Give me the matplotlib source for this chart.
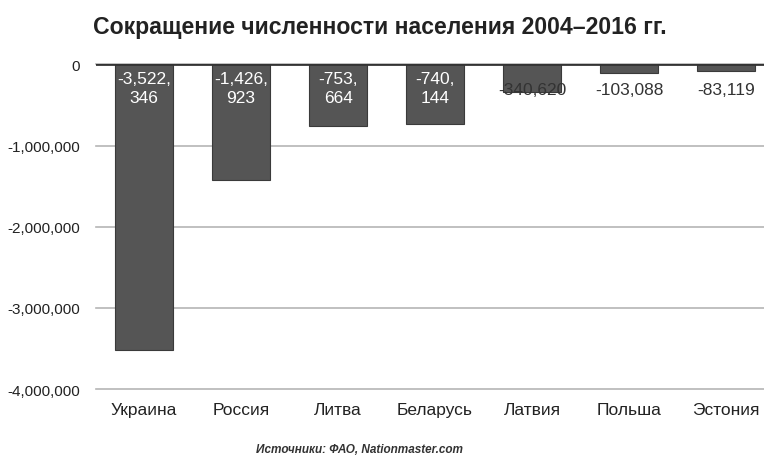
import matplotlib.pyplot as plt
from matplotlib.ticker import FuncFormatter

countries = ["Украина", "Россия", "Литва", "Беларусь", "Латвия", "Польша", "Эстония"]
decline = [-3522346, -1426923, -753664, -740144, -340620, -103088, -83119]
yticks = [0, -1000000, -2000000, -3000000, -4000000]

plt.rcParams["font.family"] = ["Liberation Sans", "DejaVu Sans"]

fig = plt.figure(figsize=(7.64, 4.6), dpi=100)
ax = fig.add_axes([0.125, 0.152, 0.889, 0.706])

x = range(len(countries))
ax.bar(x, decline, width=0.6, color="#555555", edgecolor="#3a3a3a", lw=0.8, zorder=3)

for i, v in enumerate(decline):
    s = f"{v:,}"
    if v < -700000:
        # long numbers wrap inside the bar
        head, tail = s.rsplit(",", 1)
        ax.annotate(head + ",\n" + tail, (i, 0), xytext=(0, -5),
                    textcoords="offset points", ha="center", va="top",
                    color="white", fontsize=12.5, linespacing=1.3, zorder=4)
    else:
        ax.text(i, -310000, s, ha="center", va="center",
                color="#333333", fontsize=12.5, zorder=4)

ax.set_xlim(-0.5, len(countries) - 0.5)
ax.set_ylim(-4000000, 0)
ax.set_yticks(yticks)
ax.yaxis.set_major_formatter(FuncFormatter(lambda v, p: f"{int(v):,}"))
ax.set_xticks(list(x))
ax.set_xticklabels(countries, fontsize=12.5, color="#222222")
ax.tick_params(axis="x", length=0, pad=9)
ax.tick_params(axis="y", length=0, pad=11, labelsize=11, labelcolor="#222222")

ax.grid(axis="y", color="#b5b5b5", lw=1.2, zorder=0)
for gl in ax.get_ygridlines():
    gl.set_clip_on(False)
for sp in ax.spines.values():
    sp.set_visible(False)
ax.axhline(0, color="#333333", lw=2, zorder=5)

fig.text(0.122, 0.94, "Сокращение численности населения 2004–2016 гг.",
         fontsize=16.6, fontweight="bold", color="#222222", va="center")
fig.text(0.47, 0.022, "Источники: ФАО, Nationmaster.com",
         fontsize=8.5, fontstyle="italic", fontweight="bold", color="#333333",
         ha="center", va="center")

fig.savefig("out.png", dpi=100)
